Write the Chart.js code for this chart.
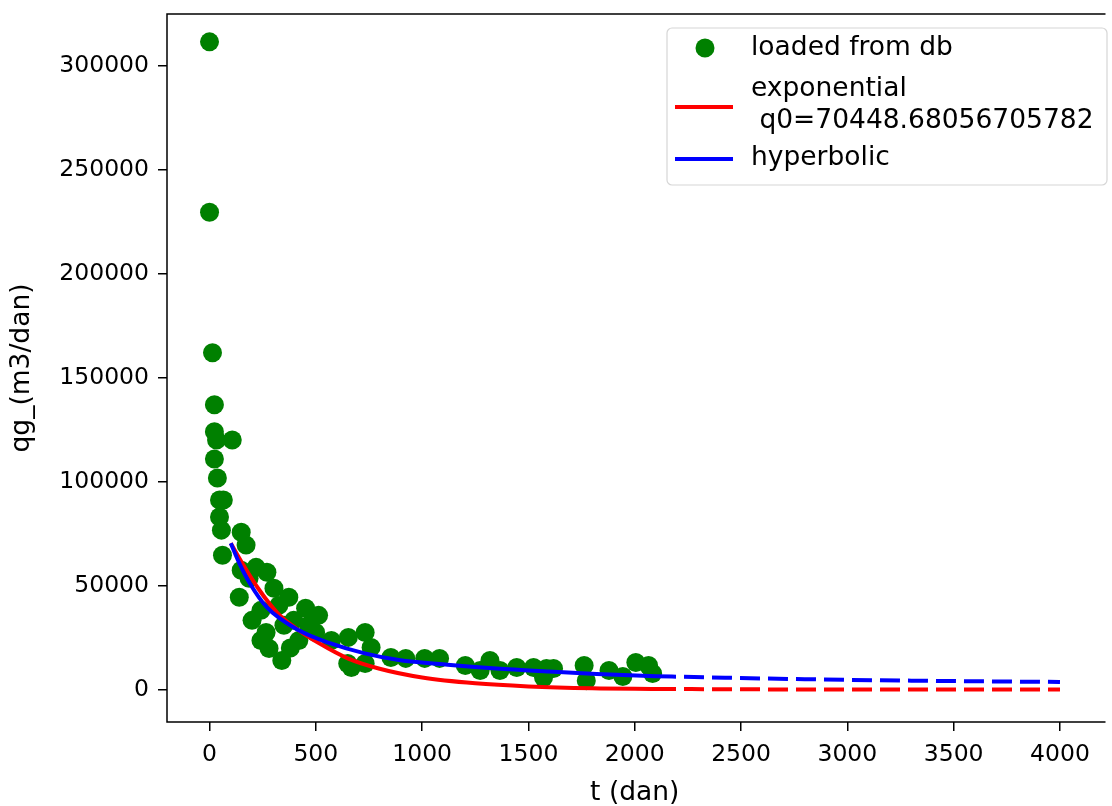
<!DOCTYPE html>
<html>
<head>
<meta charset="utf-8">
<script src="https://cdn.jsdelivr.net/npm/chart.js@4/dist/chart.umd.min.js"></script>
<style>
  body { margin: 0; background: #fff; }
  #wrap { width: 1112px; height: 806px; }
</style>
</head>
<body>
<div id="wrap"><canvas id="declineChart" width="1112" height="806"></canvas></div>
<script>
//////// Data ////////

// measured production points
const dbT = [0, 0, 14, 23, 23, 33, 107, 23, 37, 47, 65, 47, 56, 149, 172, 61, 149, 219, 270, 140,
  303, 373, 452, 200, 242, 266, 280, 340, 420, 499, 573, 653, 732, 760, 667, 732, 853, 923, 1012, 1082,
  1203, 1273, 1319, 1366, 1445, 1524, 1585, 1618, 1762, 1772, 1879, 1944, 2005, 2065, 2084, 1571,
  186, 326, 396, 513, 350, 466, 242, 380, 650];
const dbQ = [311600, 229600, 162000, 137000, 124000, 120100, 120100, 110900, 101800, 91200, 91200, 83000, 76700, 75700, 69500, 64600, 57400, 58800, 56400, 44400,
  48700, 44400, 39100, 33300, 38100, 27500, 19800, 14000, 23600, 27500, 23600, 25100, 27500, 20300, 10600, 12500, 15400, 15000, 15000, 15000,
  11600, 9200, 14000, 9200, 10600, 10600, 10100, 10100, 11600, 4300, 9200, 6300, 13000, 11600, 7700, 5800,
  53500, 40500, 33300, 35700, 30900, 30900, 23600, 20000, 12500];

// exponential fit (solid over history, dashed forecast)
const expT = [100, 160, 230, 320, 420, 520, 650, 800, 1000, 1250, 1500, 1800, 2100];
const expQ = [70400, 59800, 48500, 36800, 28500, 22000, 15000, 10000, 5800, 3000, 1500, 600, 300];
const expForecastT = [2100, 2600, 3000, 3500, 4000];
const expForecastQ = [300, 100, 50, 20, 0];

// hyperbolic fit
const hypT = [100, 140, 190, 270, 420, 570, 730, 890, 1120, 1350, 1590, 1820, 2100];
const hypQ = [70400, 60800, 51000, 39500, 28500, 22200, 17400, 14200, 11900, 10100, 8700, 7500, 6400];
const hypForecastT = [2100, 2330, 2800, 3300, 3700, 4000];
const hypForecastQ = [6400, 5900, 5000, 4300, 3900, 3700];

const xTicks = [0, 500, 1000, 1500, 2000, 2500, 3000, 3500, 4000];
const yTicks = [0, 50000, 100000, 150000, 200000, 250000, 300000];

const legendLabels = ["loaded from db", "exponential", " q0=70448.68056705782", "hyperbolic"];

//////// Helpers ////////

const toPoints = (ts, qs) => ts.map((t, i) => ({ x: t, y: qs[i] }));

const lineSet = (ts, qs, color, dashed, order) => ({
  type: "line",
  data: toPoints(ts, qs),
  showLine: true,
  borderColor: color,
  borderWidth: 4,
  borderDash: dashed ? [20, 8] : [],
  pointRadius: 0,
  fill: false,
  cubicInterpolationMode: "monotone",
  order: order,
});

// box around plot area, like matplotlib spines
const framePlugin = {
  id: "frame",
  afterDatasetsDraw(chart) {
    const { ctx, chartArea: a } = chart;
    ctx.save();
    ctx.strokeStyle = "#000";
    ctx.lineWidth = 1.5;
    ctx.beginPath();
    ctx.moveTo(a.right + 3, a.top);
    ctx.lineTo(a.left, a.top);
    ctx.lineTo(a.left, a.bottom);
    ctx.lineTo(a.right + 3, a.bottom);
    ctx.stroke();
    ctx.restore();
  },
};

// matplotlib style legend box
const legendPlugin = {
  id: "mplLegend",
  afterDraw(chart) {
    const ctx = chart.ctx;
    const x0 = 667, y0 = 28, x1 = 1107, y1 = 185, r = 5;
    ctx.save();
    ctx.beginPath();
    ctx.moveTo(x0 + r, y0);
    ctx.arcTo(x1, y0, x1, y1, r);
    ctx.arcTo(x1, y1, x0, y1, r);
    ctx.arcTo(x0, y1, x0, y0, r);
    ctx.arcTo(x0, y0, x1, y0, r);
    ctx.closePath();
    ctx.fillStyle = "rgba(255,255,255,0.8)";
    ctx.fill();
    ctx.strokeStyle = "#d6d6d6";
    ctx.lineWidth = 1.2;
    ctx.stroke();

    // marker for scatter
    ctx.fillStyle = "#008000";
    ctx.beginPath();
    ctx.arc(705, 48, 9.5, 0, Math.PI * 2);
    ctx.fill();

    ctx.lineWidth = 4;
    ctx.strokeStyle = "#ff0000";
    ctx.beginPath();
    ctx.moveTo(675, 107);
    ctx.lineTo(733, 107);
    ctx.stroke();

    ctx.strokeStyle = "#0000ff";
    ctx.beginPath();
    ctx.moveTo(675, 159);
    ctx.lineTo(733, 159);
    ctx.stroke();

    ctx.fillStyle = "#000";
    ctx.font = "26.5px 'DejaVu Sans'";
    ctx.textBaseline = "middle";
    ctx.textAlign = "left";
    ctx.fillText(legendLabels[0], 751, 48);
    ctx.fillText(legendLabels[1], 751, 89);
    ctx.fillText(legendLabels[2], 751, 121);
    ctx.fillText(legendLabels[3], 751, 158);
    ctx.restore();
  },
};

Chart.defaults.font.family = "'DejaVu Sans'";
Chart.defaults.font.size = 23.5;
Chart.defaults.color = "#000";

const titleFont = { size: 26.5, lineHeight: 1.0 };

const ctx = document.getElementById("declineChart");
const declineChart = new Chart(ctx, {
  type: "scatter",
  data: {
    datasets: [
      {
        label: legendLabels[0],
        data: toPoints(dbT, dbQ),
        backgroundColor: "#008000",
        borderWidth: 0,
        pointRadius: 9.5,
        pointHoverRadius: 9.5,
        order: 3,
      },
      lineSet(expT, expQ, "#ff0000", false, 2),
      lineSet(expForecastT, expForecastQ, "#ff0000", true, 2),
      lineSet(hypT, hypQ, "#0000ff", false, 1),
      lineSet(hypForecastT, hypForecastQ, "#0000ff", true, 1),
    ],
  },
  options: {
    responsive: false,
    animation: false,
    devicePixelRatio: 1,
    layout: { padding: { left: 0, top: 14, right: 0, bottom: 0 } },
    plugins: {
      legend: { display: false },
      tooltip: { enabled: false },
    },
    scales: {
      x: {
        type: "linear",
        min: -200,
        max: 4200,
        afterBuildTicks: (scale) => {
          scale.ticks = xTicks.map((v) => ({ value: v }));
        },
        afterFit: (scale) => {
          scale.height = 84;
          scale.paddingLeft = 0;
          scale.paddingRight = 0;
        },
        ticks: {
          padding: 10,
          maxRotation: 0,
          callback: (v) => String(v),
        },
        grid: {
          drawOnChartArea: false,
          drawTicks: true,
          tickLength: 9,
          color: "#000",
          lineWidth: 1.5,
        },
        border: { display: false },
        title: {
          display: true,
          text: "t (dan)",
          font: titleFont,
          padding: { top: 0, bottom: 0 },
        },
      },
      y: {
        type: "linear",
        min: -15600,
        max: 325000,
        afterBuildTicks: (scale) => {
          scale.ticks = yTicks.map((v) => ({ value: v }));
        },
        afterFit: (scale) => {
          scale.width = 167;
          scale.paddingTop = 0;
          scale.paddingBottom = 0;
        },
        ticks: {
          padding: 9,
          callback: (v) => String(v),
        },
        grid: {
          drawOnChartArea: false,
          drawTicks: true,
          tickLength: 9,
          color: "#000",
          lineWidth: 1.5,
        },
        border: { display: false },
        title: {
          display: true,
          text: "qg_(m3/dan)",
          font: titleFont,
          padding: { top: 9, bottom: 0 },
        },
      },
    },
  },
  plugins: [framePlugin, legendPlugin],
});
</script>
</body>
</html>
